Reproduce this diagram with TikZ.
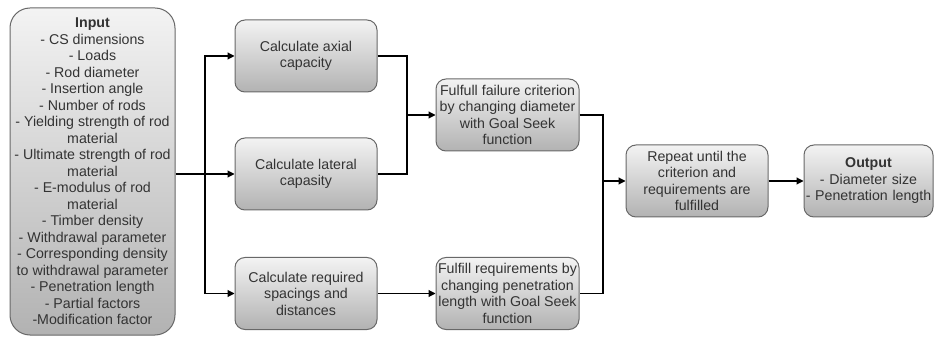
\documentclass[tikz,border=0pt]{standalone}
\usepackage{fontspec}
\setmainfont{Liberation Sans}
\usetikzlibrary{arrows.meta}
\definecolor{boxtop}{HTML}{F3F3F3}
\definecolor{boxbot}{HTML}{B2B2B2}
\definecolor{boxline}{HTML}{686868}
\tikzset{
  box/.style={draw=boxline, line width=1pt, rounded corners=10pt,
    top color=boxtop, bottom color=boxbot, align=center,
    inner xsep=0pt, inner ysep=0pt, text=black!80,
    font=\fontsize{14.2}{16.5}\selectfont},
  conn/.style={line width=1.1pt, black},
  arr/.style={conn, -{Triangle[length=7pt,width=7pt]}}
}
\begin{document}
\begin{tikzpicture}[x=1pt,y=-1pt]
\useasboundingbox (0,0) rectangle (935,339);
\clip (0,0) rectangle (935,339);
\node[box, rounded corners=20pt, minimum width=165pt, minimum height=327pt] (in) at (92.5,171.5)
 {\textbf{Input}\\- CS dimensions\\- Loads\\- Rod diameter\\- Insertion angle\\- Number of rods\\- Yielding strength of rod\\material\\- Ultimate strength of rod\\material\\- E-modulus of rod\\material\\- Timber density\\- Withdrawal parameter\\- Corresponding density\\to withdrawal parameter\\- Penetration length\\- Partial factors\\-Modification factor};
\node[box, minimum width=142pt, minimum height=72pt] (ax) at (306,56) {Calculate axial\\capacity};
\node[box, minimum width=142pt, minimum height=72pt] (lat) at (306,174) {Calculate lateral\\capasity};
\node[box, minimum width=142pt, minimum height=72pt] (sp) at (306,293.5) {Calculate required\\spacings and\\distances};
\node[box, minimum width=143pt, minimum height=72pt] (fail) at (507.5,115) {Fulfull failure criterion\\by changing diameter\\with Goal Seek\\function};
\node[box, minimum width=143pt, minimum height=72pt] (req) at (507.5,293.5) {Fulfill requirements by\\changing penetration\\length with Goal Seek\\function};
\node[box, minimum width=142pt, minimum height=72pt] (rep) at (697,181) {Repeat until the\\criterion and\\requirements are\\fulfilled};
\node[box, minimum width=129pt, minimum height=72pt, text width=129pt] (out) at (868.5,181) {\textbf{Output}\\- Diameter size\\- Penetration length};
\coordinate (b1) at (205,174);
\coordinate (m1) at (407,174);
\coordinate (m2) at (603,293.5);
\draw[conn] (in.east |- b1) -- (b1);
\draw[arr] (b1) -- (lat.west);
\draw[arr] (b1) |- (ax.west);
\draw[arr] (b1) |- (sp.west);
\draw[conn] (ax.east) -| (m1) -- (lat.east);
\draw[arr] (fail.west -| m1) -- (fail.west);
\draw[arr] (sp.east) -- (req.west);
\draw[conn] (fail.east) -| (m2) -- (req.east);
\draw[arr] (rep.west -| m2) -- (rep.west);
\draw[arr] (rep.east) -- (out.west);
\end{tikzpicture}
\end{document}
